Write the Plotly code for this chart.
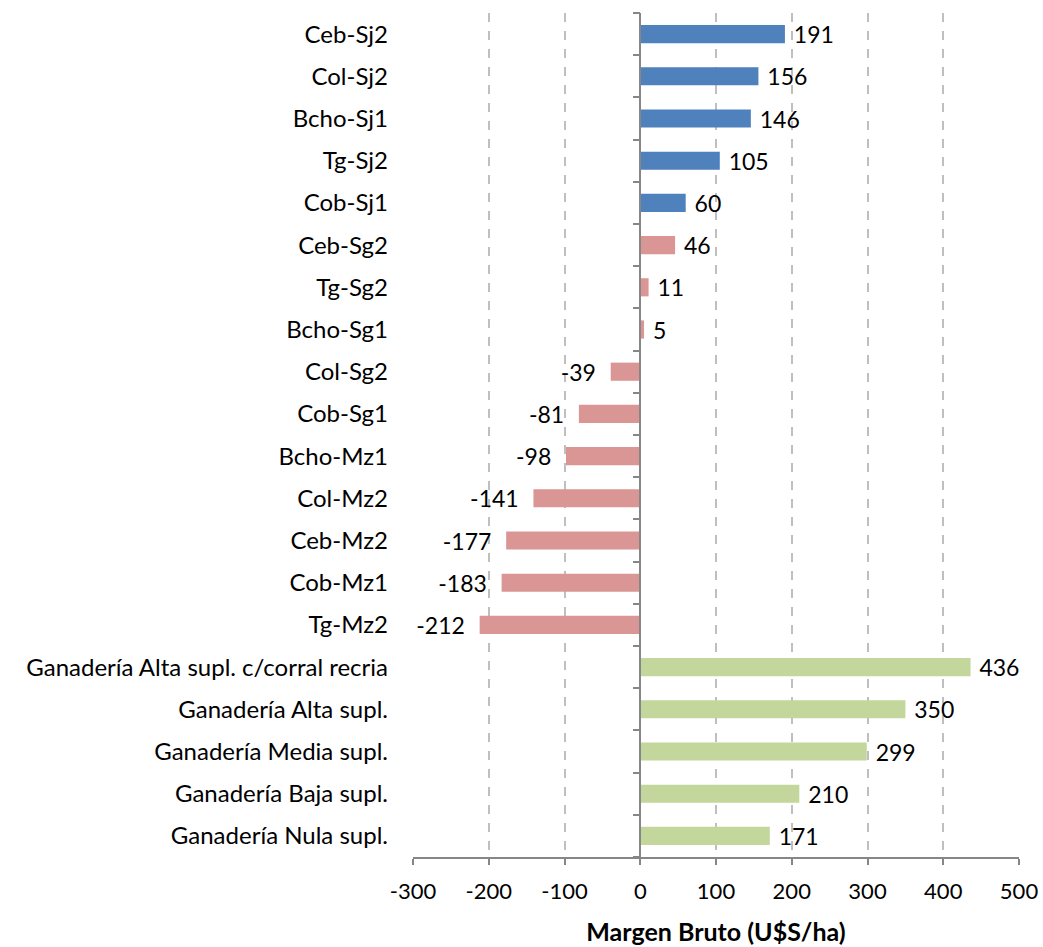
import plotly.graph_objects as go

categories = ["Ceb-Sj2", "Col-Sj2", "Bcho-Sj1", "Tg-Sj2", "Cob-Sj1",
              "Ceb-Sg2", "Tg-Sg2", "Bcho-Sg1", "Col-Sg2", "Cob-Sg1",
              "Bcho-Mz1", "Col-Mz2", "Ceb-Mz2", "Cob-Mz1", "Tg-Mz2",
              "Ganadería Alta supl. c/corral recria", "Ganadería Alta supl.",
              "Ganadería Media supl.", "Ganadería Baja supl.", "Ganadería Nula supl."]
values = [191, 156, 146, 105, 60, 46, 11, 5, -39, -81, -98, -141, -177, -183, -212,
          436, 350, 299, 210, 171]
groups = ["Sj"] * 5 + ["SgMz"] * 10 + ["Gan"] * 5
group_colors = {"Sj": "#4F81BD", "SgMz": "#D99694", "Gan": "#C3D69B"}
x_ticks = [-300, -200, -100, 0, 100, 200, 300, 400, 500]

FONT = "Lato, 'Open Sans', sans-serif"

# reverse so first category is on top
cats = categories[::-1]
vals = values[::-1]
cols = [group_colors[g] for g in groups[::-1]]
texts = [f" {v}" if v >= 0 else f"{v}  " for v in vals]
n = len(cats)

fig = go.Figure()
fig.add_trace(go.Bar(
    y=cats, x=vals, orientation="h",
    marker=dict(color=cols, line=dict(width=0)),
    text=texts, textposition="outside", cliponaxis=False, constraintext="none",
    textfont=dict(family=FONT, size=23, color="#000000"),
    showlegend=False, hoverinfo="x+y"))
# invisible helper trace for the category axis drawn at x=0
fig.add_trace(go.Scatter(
    y=cats, x=[0] * n, yaxis="y2", mode="markers",
    marker=dict(opacity=0), showlegend=False, hoverinfo="skip"))

fig.update_layout(
    width=1043, height=947,
    margin=dict(l=413, r=24, t=13, b=90),
    paper_bgcolor="white", plot_bgcolor="white",
    bargap=0.57,
    font=dict(family=FONT, size=22, color="#000000"),
    xaxis=dict(
        range=[-300, 500], tickvals=x_ticks, ticktext=[str(t) for t in x_ticks],
        showgrid=True, gridcolor="#BFBFBF", griddash="dash", gridwidth=1.5,
        zeroline=False, showline=True, linecolor="#868686", linewidth=1.5,
        ticks="outside", ticklen=6, tickcolor="#868686", tickwidth=1.5,
        tickfont=dict(family=FONT, size=22), ticklabelstandoff=8,
        title=dict(text="<b>Margen Bruto (U$S/ha)</b>", font=dict(family=FONT, size=25),
                   standoff=20),
        automargin=False,
    ),
    yaxis=dict(
        categoryorder="array", categoryarray=cats, range=[-0.5, n - 0.5],
        showline=False, ticks="", showgrid=False, zeroline=False,
        tickfont=dict(family=FONT, size=24), ticklabelstandoff=24,
        automargin=False,
    ),
    yaxis2=dict(
        overlaying="y", matches="y", anchor="free", position=0.375,
        categoryorder="array", categoryarray=cats, range=[-0.5, n - 0.5],
        showline=True, linecolor="#868686", linewidth=1.5,
        ticks="outside", tickson="boundaries", ticklen=7,
        tickcolor="#868686", tickwidth=1.5,
        showticklabels=False, showgrid=False, zeroline=False,
        automargin=False,
    ),
)

fig.write_html("out.html",
               config={"displayModeBar": False},
               post_script="document.body.style.margin='0';document.body.style.overflow='hidden';")
